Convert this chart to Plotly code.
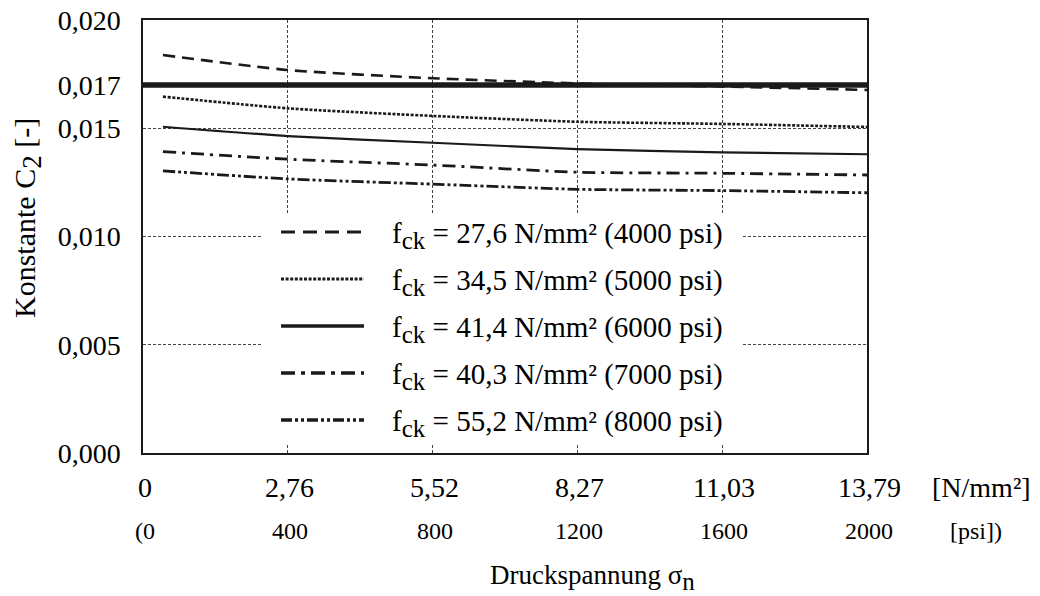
import plotly.graph_objects as go

# Compressive stress in psi (plotting coordinate) and the C2 constant per concrete grade
psi = [55, 400, 800, 1200, 1600, 2000]
c2_4000 = [0.01838, 0.01769, 0.01731, 0.01707, 0.01693, 0.01677]
c2_5000 = [0.01646, 0.01592, 0.01557, 0.01530, 0.01520, 0.01506]
c2_6000 = [0.01507, 0.01464, 0.01433, 0.01404, 0.01389, 0.01380]
c2_7000 = [0.01392, 0.01357, 0.01330, 0.01297, 0.01292, 0.01284]
c2_8000 = [0.01303, 0.01266, 0.01242, 0.01218, 0.01212, 0.01202]
c2_limit = 0.017

SUB = "<sub><span style='font-size:{}px'>{}</span></sub>"
series_labels = [
    "f" + SUB.format(25, "ck") + " = 27,6 N/mm² (4000 psi)",
    "f" + SUB.format(25, "ck") + " = 34,5 N/mm² (5000 psi)",
    "f" + SUB.format(25, "ck") + " = 41,4 N/mm² (6000 psi)",
    "f" + SUB.format(25, "ck") + " = 40,3 N/mm² (7000 psi)",
    "f" + SUB.format(25, "ck") + " = 55,2 N/mm² (8000 psi)",
]

x_ticks_psi = [0, 400, 800, 1200, 1600, 2000]
x_labels_nmm = ["0", "2,76", "5,52", "8,27", "11,03", "13,79"]
x_labels_psi = ["(0", "400", "800", "1200", "1600", "2000"]
y_ticks = [0.0, 0.005, 0.010, 0.015, 0.017, 0.020]
y_labels = ["0,000", "0,005", "0,010", "0,015", "0,017", "0,020"]

FONT = "Liberation Serif"
INK = "#1a1a1a"
W, H = 1040, 596
L, R, T, B = 143, 173, 20, 143
PW, PH = W - L - R, H - T - B
X_MAX = 2000


def px(xp):
    return (xp - L) / PW


def py(yp):
    return (H - B - yp) / PH


styles = [
    dict(dash="12px,7px", width=2.6),
    dict(dash="3px,1.6px", width=2.6),
    dict(dash="solid", width=2.2),
    dict(dash="13px,6px,3px,6px", width=2.8),
    dict(dash="12px,3px,3px,3px,3px,3px", width=2.8),
]
legend_styles = [
    dict(dash="14px,8px", width=3),
    dict(dash="3px,1.6px", width=3),
    dict(dash="solid", width=3.4),
    dict(dash="14px,6px,4px,6px", width=3.4),
    dict(dash="11px,3px,3px,3px,3px,3px", width=3.4),
]

fig = go.Figure()

fig.add_trace(go.Scatter(
    x=[x_ticks_psi[0], x_ticks_psi[-1]], y=[c2_limit, c2_limit],
    mode="lines", line=dict(color=INK, width=5.5), hoverinfo="skip",
))

for vals, st in zip([c2_4000, c2_5000, c2_6000, c2_7000, c2_8000], styles):
    fig.add_trace(go.Scatter(
        x=psi, y=vals, mode="lines",
        line=dict(color=INK, width=st["width"], dash=st["dash"], shape="spline", smoothing=0.6),
    ))

grid = dict(showgrid=True, gridcolor="#444444", gridwidth=1, griddash="3px,2px")
fig.update_xaxes(
    range=[0, X_MAX], tickvals=x_ticks_psi, showticklabels=False, ticks="", automargin=False,
    showline=True, mirror=True, linecolor=INK, linewidth=1.5, zeroline=False, **grid,
)
fig.update_yaxes(
    range=[0, 0.020], tickvals=y_ticks, ticktext=y_labels, ticks="", automargin=False,
    ticklabelstandoff=15, tickfont=dict(family=FONT, size=28, color="black"),
    showline=True, mirror=True, linecolor=INK, linewidth=1.5, zeroline=False, **grid,
)

shapes = [dict(
    type="rect", xref="paper", yref="paper", x0=px(263), x1=px(742), y0=py(444), y1=py(214),
    fillcolor="white", line=dict(width=0), layer="above",
)]
annotations = []
row_y = [232, 279, 326, 373, 420]
for lbl, st, yp in zip(series_labels, legend_styles, row_y):
    shapes.append(dict(
        type="line", xref="paper", yref="paper", x0=px(281), x1=px(364), y0=py(yp), y1=py(yp),
        line=dict(color=INK, width=st["width"], dash=st["dash"]), layer="above",
    ))
    annotations.append(dict(
        text=lbl, xref="paper", yref="paper", x=px(390), y=py(yp + 3),
        xanchor="left", yanchor="middle", showarrow=False,
        font=dict(family=FONT, size=29, color="black"),
    ))

# two rows of x tick labels: N/mm² above, psi below
for xv, t1, t2 in zip(x_ticks_psi, x_labels_nmm, x_labels_psi):
    xp = xv / X_MAX + 2 / PW
    annotations.append(dict(
        text=t1, xref="paper", yref="paper", x=xp, y=py(487), xanchor="center", yanchor="middle",
        showarrow=False, font=dict(family=FONT, size=28, color="black"),
    ))
    annotations.append(dict(
        text=t2, xref="paper", yref="paper", x=xp, y=py(531), xanchor="center", yanchor="middle",
        showarrow=False, font=dict(family=FONT, size=24, color="black"),
    ))

annotations += [
    dict(text="[N/mm²]", xref="paper", yref="paper", x=px(930), y=py(487), xanchor="left",
         yanchor="middle", showarrow=False, font=dict(family=FONT, size=28, color="black")),
    dict(text="[psi])", xref="paper", yref="paper", x=px(948), y=py(531), xanchor="left",
         yanchor="middle", showarrow=False, font=dict(family=FONT, size=24, color="black")),
    dict(text="Druckspannung σ" + SUB.format(25, "n"), xref="paper", yref="paper",
         x=px(592), y=py(577), xanchor="center", yanchor="middle", showarrow=False,
         font=dict(family=FONT, size=27, color="black")),
    dict(text="Konstante C" + SUB.format(27, "2") + " [-]", xref="paper", yref="paper",
         x=px(27), y=py(218), xanchor="center", yanchor="middle", textangle=-90,
         showarrow=False, font=dict(family=FONT, size=30, color="black")),
]

fig.update_layout(
    width=W, height=H, margin=dict(l=L, r=R, t=T, b=B, autoexpand=False),
    paper_bgcolor="white", plot_bgcolor="white", showlegend=False,
    shapes=shapes, annotations=annotations,
    font=dict(family=FONT, color="black"),
)

fig.write_html("out.html")
